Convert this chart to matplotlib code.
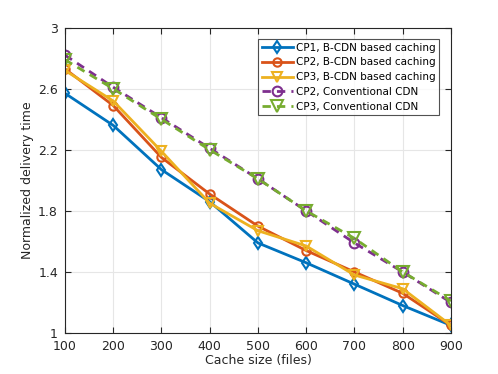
import matplotlib
matplotlib.use("Agg")
import matplotlib.pyplot as plt

# ============================================
# Data
# ============================================
cache_size = [100, 200, 300, 400, 500, 600, 700, 800, 900]

cp1_bcdn = [2.57, 2.36, 2.07, 1.86, 1.59, 1.46, 1.32, 1.18, 1.05]
cp2_bcdn = [2.73, 2.49, 2.15, 1.91, 1.70, 1.54, 1.40, 1.26, 1.05]
cp3_bcdn = [2.72, 2.52, 2.19, 1.85, 1.67, 1.57, 1.38, 1.29, 1.05]
cp2_conv = [2.82, 2.61, 2.41, 2.21, 2.01, 1.80, 1.59, 1.40, 1.20]
cp3_conv = [2.79, 2.60, 2.40, 2.20, 2.01, 1.80, 1.62, 1.40, 1.21]

xticks = [100, 200, 300, 400, 500, 600, 700, 800, 900]
yticks = [1, 1.4, 1.8, 2.2, 2.6, 3]

plt.rcParams['font.family'] = ['DejaVu Sans']

fig = plt.figure(figsize=(4.98, 3.74), dpi=100)
ax = fig.add_axes([0.1305, 0.1096, 0.775, 0.8164])

lw = 2
ms = 6
dash = (0, (3, 2.2))
ax.plot(cache_size, cp1_bcdn, '-', marker='d', color='#0072BD', lw=lw, ms=ms,
        mfc='none', mew=1.5, label='CP1, B-CDN based caching')
ax.plot(cache_size, cp2_bcdn, '-', marker='o', color='#D95319', lw=lw, ms=ms,
        mfc='none', mew=1.5, label='CP2, B-CDN based caching')
ax.plot(cache_size, cp3_bcdn, '-', marker='v', color='#EDB120', lw=lw, ms=ms + 1,
        mfc='none', mew=1.5, label='CP3, B-CDN based caching')
ax.plot(cache_size, cp2_conv, linestyle=dash, marker='o', color='#7E2F8E', lw=lw,
        ms=ms + 1, mfc='none', mew=1.5, label='CP2, Conventional CDN')
ax.plot(cache_size, cp3_conv, linestyle=dash, marker='v', color='#77AC30', lw=lw,
        ms=ms + 2, mfc='none', mew=1.5, label='CP3, Conventional CDN')

ax.set_xlim(100, 900)
ax.set_ylim(1, 3)
ax.set_xticks(xticks)
ax.set_yticks(yticks)
ax.set_yticklabels(['1', '1.4', '1.8', '2.2', '2.6', '3'])
ax.tick_params(direction='in', labelsize=9, colors='#262626', top=True, right=True,
               length=4)
ax.tick_params(axis='x', pad=5)
ax.tick_params(axis='y', pad=5)
ax.grid(True, color='#e6e6e6', lw=0.8)
ax.set_axisbelow(True)
for s in ax.spines.values():
    s.set_color('#262626')
    s.set_linewidth(0.8)

ax.set_xlabel('Cache size (files)', fontsize=9, color='#262626', labelpad=1)
ax.set_ylabel('Normalized delivery time', fontsize=9, color='#262626', labelpad=3)

leg = ax.legend(loc='upper right', fontsize=7.5, frameon=True, fancybox=False,
                edgecolor='#262626', borderpad=0.35, labelspacing=0.45,
                handlelength=3.0, handletextpad=0.3, borderaxespad=1.1,
                numpoints=1)
leg.get_frame().set_linewidth(0.8)

fig.savefig('out.png', dpi=100)
